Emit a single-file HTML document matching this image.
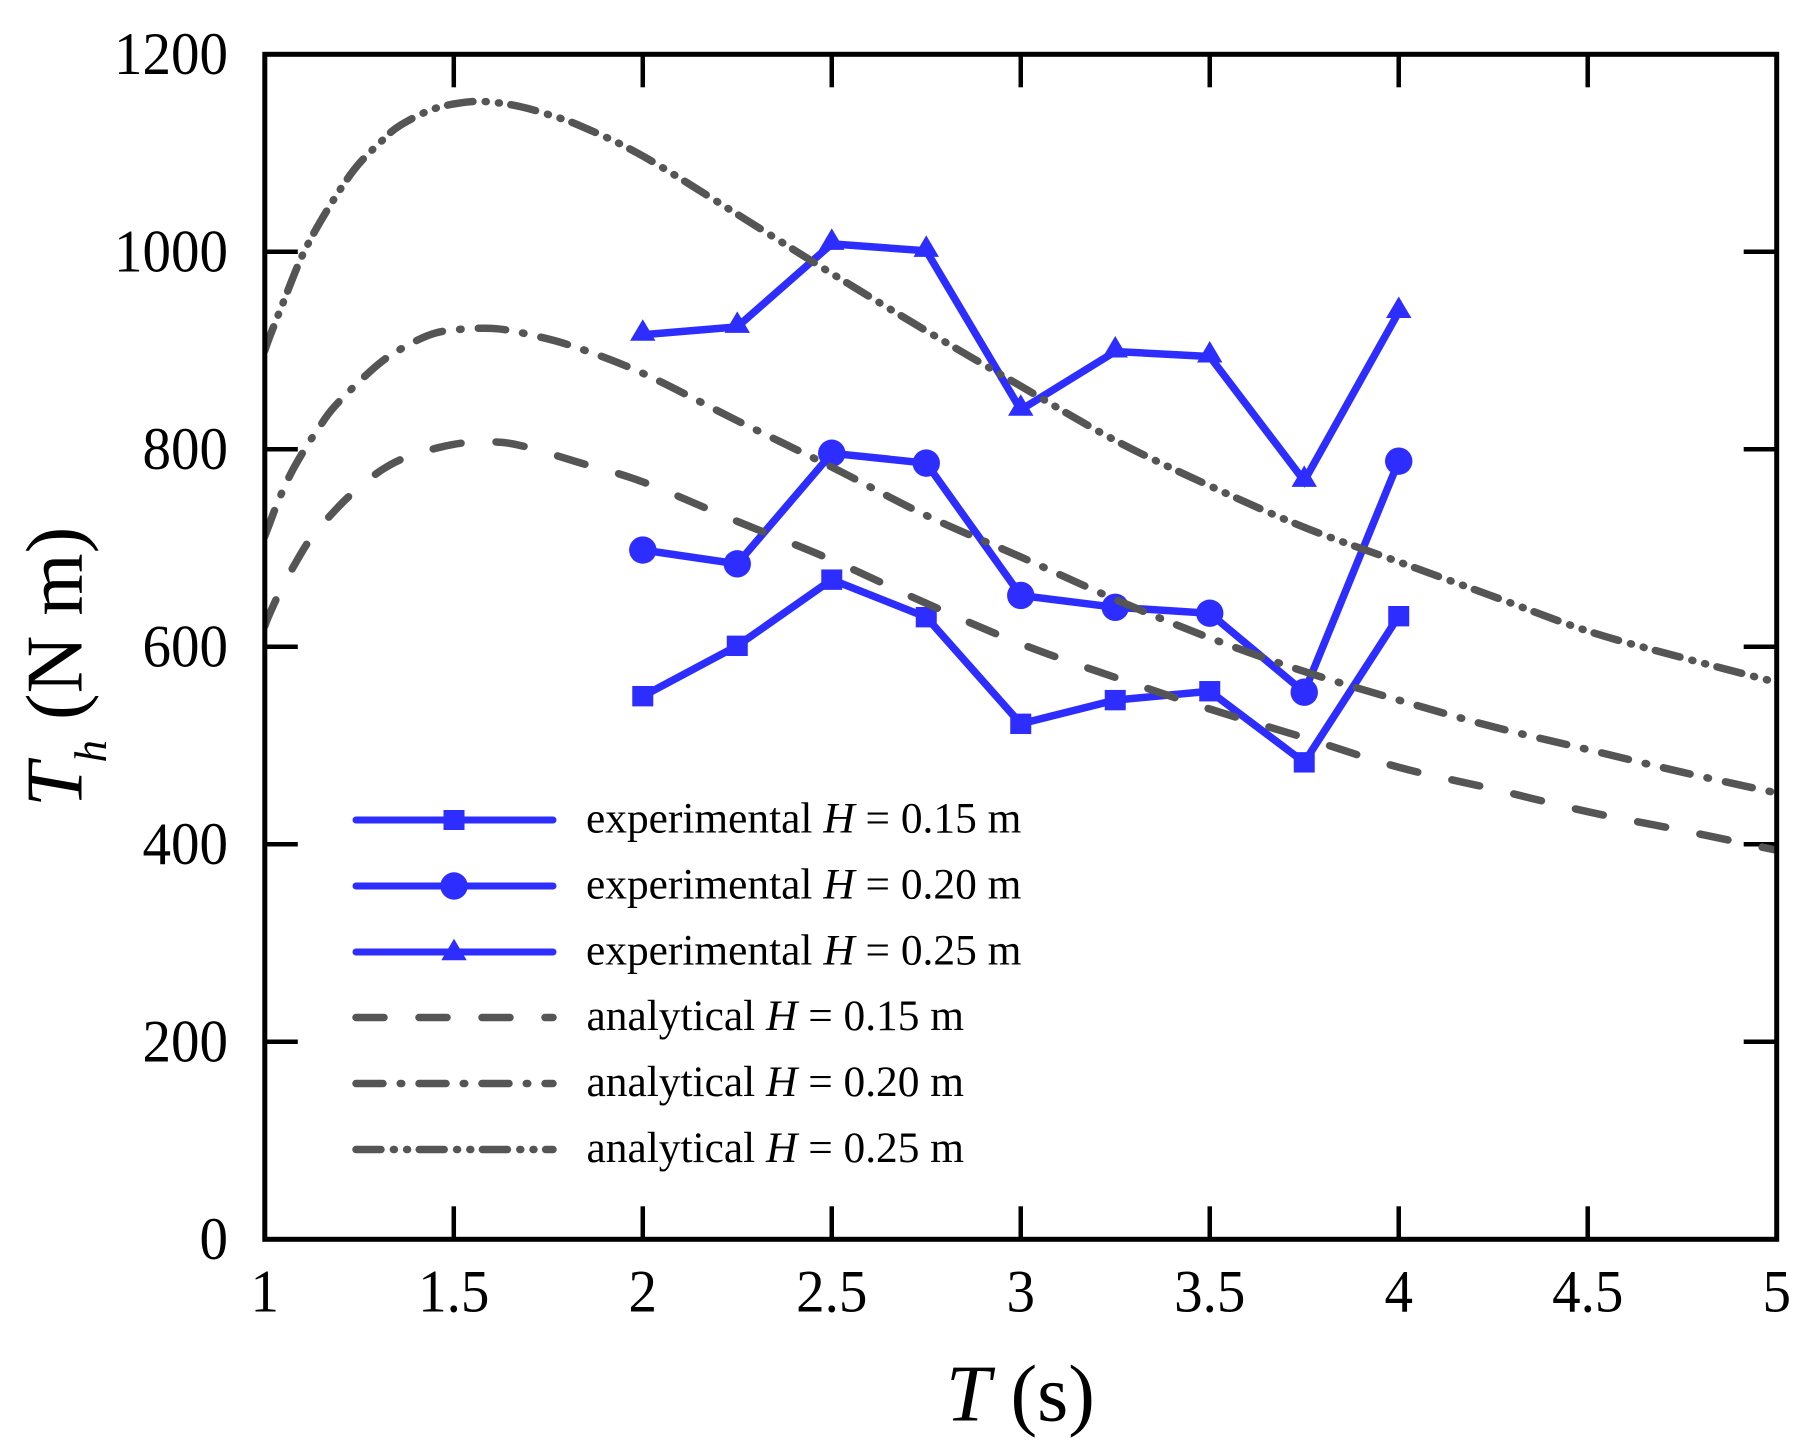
<!DOCTYPE html>
<html lang="en">
<head>
<meta charset="utf-8">
<title>Th vs T chart</title>
<style>
  html, body { margin: 0; padding: 0; background: #fff; }
  svg { display: block; }
  text { font-family: "Liberation Serif", serif; fill: #000; }
  .tick-label { font-size: 60px; }
  .legend-text { font-size: 43.4px; }
  .axis-title { font-size: 80px; }
  .exp { fill: none; stroke: #2d2dff; stroke-width: 7.5; stroke-linejoin: miter; }
  .ana { fill: none; stroke: #555; stroke-width: 7.5; stroke-linecap: round; stroke-linejoin: round; }
  .leg-exp { fill: none; stroke: #2d2dff; stroke-width: 7; stroke-linecap: round; }
</style>
</head>
<body>
<svg id="chart" xmlns="http://www.w3.org/2000/svg" width="1808" height="1448" viewBox="0 0 1808 1448">
  <rect x="0" y="0" width="1808" height="1448" fill="#fff"/>
  <defs>
    <clipPath id="plot-clip"><rect x="264.8" y="54.3" width="1511.9" height="1185"/></clipPath>
  </defs>
  <g id="ticks"></g>
  <g id="experimental"></g>
  <g id="analytical" clip-path="url(#plot-clip)"></g>
  <rect x="264.8" y="54.3" width="1511.9" height="1185" fill="none" stroke="#000" stroke-width="5"/>
  <g id="labels"></g>

  <text class="axis-title" x="946" y="1420.7"><tspan font-style="italic">T</tspan> (s)</text>
  <text class="axis-title" transform="translate(81.7,807) rotate(-90)"><tspan font-style="italic">T</tspan><tspan font-style="italic" font-size="45" dy="24.5">h</tspan><tspan dy="-24.5"> (N m)</tspan></text>

  <g>
    <g>
      <line class="leg-exp" x1="356" y1="820" x2="553" y2="820"/>
      <rect fill="#2d2dff" x="443.5" y="810" width="21" height="20"/>
      <text class="legend-text" x="586" y="832.3">experimental <tspan font-style="italic">H</tspan> = 0.15 m</text>
    </g>
    <g>
      <line class="leg-exp" x1="356" y1="886" x2="553" y2="886"/>
      <circle fill="#2d2dff" cx="454" cy="886" r="13.7"/>
      <text class="legend-text" x="586" y="898.3">experimental <tspan font-style="italic">H</tspan> = 0.20 m</text>
    </g>
    <g>
      <line class="leg-exp" x1="356" y1="952" x2="553" y2="952"/>
      <polygon fill="#2d2dff" points="454,938.7 466.7,960.3 441.3,960.3"/>
      <text class="legend-text" x="586" y="964.3">experimental <tspan font-style="italic">H</tspan> = 0.25 m</text>
    </g>
    <g>
      <line class="ana" x1="356" y1="1017.5" x2="553" y2="1017.5" stroke-dasharray="28 35"/>
      <text class="legend-text" x="586.5" y="1029.8">analytical <tspan font-style="italic">H</tspan> = 0.15 m</text>
    </g>
    <g>
      <line class="ana" x1="356" y1="1083.5" x2="553" y2="1083.5" stroke-dasharray="27 17.25 1.5 17.25"/>
      <text class="legend-text" x="586.5" y="1095.8">analytical <tspan font-style="italic">H</tspan> = 0.20 m</text>
    </g>
    <g>
      <line class="ana" x1="356" y1="1149.5" x2="553" y2="1149.5" stroke-dasharray="25 12.4 1 12.2 1 11.6"/>
      <text class="legend-text" x="586.5" y="1161.8">analytical <tspan font-style="italic">H</tspan> = 0.25 m</text>
    </g>
  </g>
</svg>

<script>
const xTicks = [1, 1.5, 2, 2.5, 3, 3.5, 4, 4.5, 5];
const xTickLabels = ['1', '1.5', '2', '2.5', '3', '3.5', '4', '4.5', '5'];
const yTicks = [0, 200, 400, 600, 800, 1000, 1200];
const yTickLabels = ['0', '200', '400', '600', '800', '1000', '1200'];

const expT = [2, 2.25, 2.5, 2.75, 3, 3.25, 3.5, 3.75, 4];
const expH015 = [550, 601, 668, 630, 522, 546, 555, 483, 631];
const expH020 = [698, 684, 796, 786, 652, 640, 634, 554, 788];
const expH025 = [916, 924, 1008, 1001, 840, 899, 894, 768, 939];

const anaH015T = [1, 1.009, 1.04, 1.083, 1.124, 1.183, 1.239, 1.309, 1.375, 1.463, 1.54, 1.628, 1.706, 1.828, 2, 2.25, 2.5, 2.75, 3, 3.25, 3.5, 3.75, 4, 4.25, 4.5, 4.75, 5];
const anaH015 = [621, 630, 656, 686, 711, 737, 758, 779, 792, 802, 807, 807, 801, 787, 767, 727, 688, 644, 603, 569, 537, 508, 478, 456, 433, 414, 394];
const anaH020T = [1, 1.01, 1.036, 1.071, 1.112, 1.137, 1.186, 1.297, 1.376, 1.454, 1.537, 1.616, 1.702, 1.818, 2, 2.25, 2.5, 2.75, 3, 3.25, 3.5, 3.75, 4, 4.25, 4.5, 4.75, 5];
const anaH020 = [712, 722, 748, 777, 804, 818, 844, 885, 905, 918, 922, 922, 916, 904, 877, 829, 782, 733, 691, 648, 609, 575, 546, 519, 496, 473, 452];
const anaH025T = [1, 1.013, 1.049, 1.099, 1.16, 1.236, 1.306, 1.358, 1.449, 1.545, 1.613, 1.676, 1.742, 1.838, 2, 2.25, 2.5, 2.75, 3, 3.25, 3.5, 3.75, 4, 4.25, 4.5, 4.75, 5];
const anaH025 = [900, 914, 949, 996, 1039, 1083, 1111, 1128, 1145, 1152, 1151, 1147, 1140, 1127, 1097, 1038, 978, 920, 864, 809, 763, 721, 686, 651, 616, 589, 564];

const SVGNS = 'http://www.w3.org/2000/svg';
const xMin = 1, xMax = 5, yMin = 0, yMax = 1200;
const plotLeft = 264.8, plotRight = 1776.7, plotTop = 54.3, plotBottom = 1239.3;
const tickLen = 33;

function xScale(v) { return plotLeft + (v - xMin) / (xMax - xMin) * (plotRight - plotLeft); }
function yScale(v) { return plotBottom - (v - yMin) / (yMax - yMin) * (plotBottom - plotTop); }
function make(tag, parent) {
  const el = document.createElementNS(SVGNS, tag);
  parent.appendChild(el);
  return el;
}
function smoothPath(ts, vs) {
  const p = ts.map((t, i) => [xScale(t), yScale(vs[i])]);
  let d = 'M' + p[0][0].toFixed(2) + ' ' + p[0][1].toFixed(2);
  for (let i = 0; i < p.length - 1; i++) {
    const a = p[Math.max(i - 1, 0)], b = p[i], c = p[i + 1], e = p[Math.min(i + 2, p.length - 1)];
    const c1x = b[0] + (c[0] - a[0]) / 6, c1y = b[1] + (c[1] - a[1]) / 6;
    const c2x = c[0] - (e[0] - b[0]) / 6, c2y = c[1] - (e[1] - b[1]) / 6;
    d += 'C' + c1x.toFixed(2) + ' ' + c1y.toFixed(2) + ' ' + c2x.toFixed(2) + ' ' + c2y.toFixed(2) + ' ' + c[0].toFixed(2) + ' ' + c[1].toFixed(2);
  }
  return d;
}
function tickLine(parent, x1, y1, x2, y2) {
  const l = make('line', parent);
  
  
  l.setAttribute('x1', x1); l.setAttribute('y1', y1);
  l.setAttribute('x2', x2); l.setAttribute('y2', y2);
  l.setAttribute('stroke', '#000');
  l.setAttribute('stroke-width', '4.5');
}

const ticksG = document.getElementById('ticks');
const labelsG = document.getElementById('labels');

xTicks.forEach((v, i) => {
  const x = xScale(v);
  if (i > 0 && i < xTicks.length - 1) {
    tickLine(ticksG, x, plotBottom, x, plotBottom - tickLen);
    tickLine(ticksG, x, plotTop, x, plotTop + tickLen);
  }
  const t = make('text', labelsG);
  
  
  t.setAttribute('class', 'tick-label');
  t.setAttribute('transform', 'translate(' + x + ',1311.5) scale(0.95,1)');
  t.setAttribute('text-anchor', 'middle');
  t.textContent = xTickLabels[i];
});

yTicks.forEach((v, i) => {
  const y = yScale(v);
  if (i > 0 && i < yTicks.length - 1) {
    tickLine(ticksG, plotLeft, y, plotLeft + tickLen, y);
    tickLine(ticksG, plotRight, y, plotRight - tickLen, y);
  }
  const t = make('text', labelsG);
  
  
  t.setAttribute('class', 'tick-label');
  t.setAttribute('transform', 'translate(228,' + (y + 19.8) + ') scale(0.95,1)');
  t.setAttribute('text-anchor', 'end');
  t.textContent = yTickLabels[i];
});

const expG = document.getElementById('experimental');

function linePoints(vs) {
  return expT.map((t, i) => xScale(t).toFixed(2) + ',' + yScale(vs[i]).toFixed(2)).join(' ');
}

const exp015 = make('polyline', expG);


exp015.setAttribute('class', 'exp');
exp015.setAttribute('points', linePoints(expH015));

const exp020 = make('polyline', expG);


exp020.setAttribute('class', 'exp');
exp020.setAttribute('points', linePoints(expH020));

const exp025 = make('polyline', expG);


exp025.setAttribute('class', 'exp');
exp025.setAttribute('points', linePoints(expH025));

expH015.forEach((v, i) => {
  const m = make('rect', expG);
  
  
  m.setAttribute('x', xScale(expT[i]) - 10.5);
  m.setAttribute('y', yScale(v) - 10.2);
  m.setAttribute('width', 21);
  m.setAttribute('height', 20.4);
  m.setAttribute('fill', '#2d2dff');
});
expH020.forEach((v, i) => {
  const m = make('circle', expG);
  
  
  m.setAttribute('cx', xScale(expT[i]));
  m.setAttribute('cy', yScale(v));
  m.setAttribute('r', 13.7);
  m.setAttribute('fill', '#2d2dff');
});
expH025.forEach((v, i) => {
  const m = make('polygon', expG);
  
  
  const cx = xScale(expT[i]), cy = yScale(v);
  m.setAttribute('points', cx + ',' + (cy - 15.5) + ' ' + (cx + 12.7) + ',' + (cy + 6) + ' ' + (cx - 12.7) + ',' + (cy + 6));
  m.setAttribute('fill', '#2d2dff');
});

const anaG = document.getElementById('analytical');

const ana015 = make('path', anaG);


ana015.setAttribute('class', 'ana');
ana015.setAttribute('stroke-dasharray', '28.5 35');
ana015.setAttribute('d', smoothPath(anaH015T, anaH015));

const ana020 = make('path', anaG);


ana020.setAttribute('class', 'ana');
ana020.setAttribute('stroke-dasharray', '27.5 17.25 1.5 17.25');
ana020.setAttribute('d', smoothPath(anaH020T, anaH020));

const ana025 = make('path', anaG);


ana025.setAttribute('class', 'ana');
ana025.setAttribute('stroke-dasharray', '25.5 12.4 1 12.2 1 11.6');
ana025.setAttribute('d', smoothPath(anaH025T, anaH025));
</script>
</body>
</html>
